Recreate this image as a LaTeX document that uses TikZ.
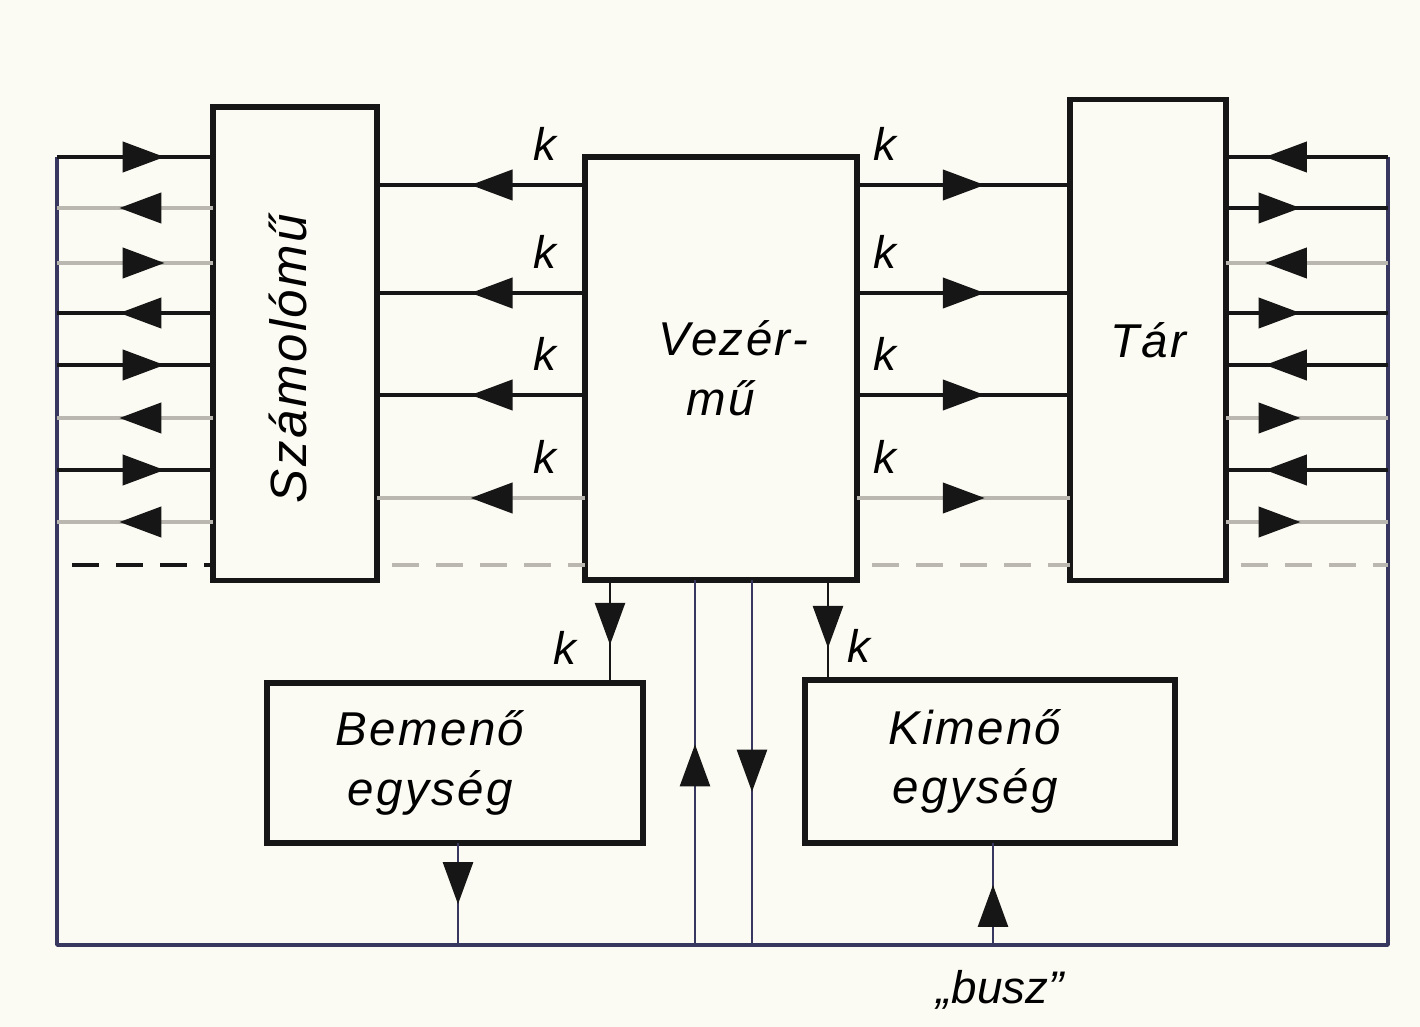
\documentclass[tikz,border=0pt]{standalone}
\usepackage{fontspec}
\setmainfont{Liberation Sans}
\newfontfamily\widefont[LetterSpace=5]{Liberation Sans}
\usetikzlibrary{arrows.meta,decorations.markings}
\definecolor{paper}{RGB}{252,251,243}
\definecolor{wire}{RGB}{22,22,22}
\definecolor{faint}{RGB}{185,183,175}
\definecolor{buscol}{RGB}{55,55,95}

\begin{document}
\begin{tikzpicture}[
    x=0.01cm, y=-0.01cm,
    unit/.style={draw=wire, line width=1.5pt, fill=paper, inner sep=0pt, outer sep=0pt,
        font=\widefont\fontsize{13.5}{17}\selectfont\itshape, align=center},
    data/.style={line width=1.2pt, draw=wire},
    dim/.style={line width=1.2pt, draw=faint},
    thin/.style={line width=0.7pt, draw=buscol},
    busline/.style={line width=1pt, draw=buscol, line join=round},
    arrowat/.style={postaction={decorate}, decoration={markings,
        mark=at position #1 with {\arrow{Triangle[length=4.2mm,width=3mm,color=wire]}}}},
    gapline/.style={line width=1.2pt, dash pattern=on 0.27cm off 0.17cm, dash phase=-0.15cm},
    lbl/.style={font=\fontsize{13}{15}\selectfont\itshape}
]
\useasboundingbox[fill=paper] (0,0) rectangle (1420,1027);

% units
\node[unit, minimum width=1.64cm, minimum height=4.73cm] (szamolo) at (295,343.5) {\rotatebox{90}{\fontsize{14.5}{17}\selectfont Számolómű\hspace*{0.3cm}}\hspace*{0.15cm}};
\node[unit, minimum width=2.72cm, minimum height=4.23cm] (vezer) at (721,368.5) {\hspace*{0.25cm}Vezér-\\mű};
\node[unit, minimum width=1.56cm, minimum height=4.80cm] (tar) at (1148,340) {Tár};
\node[unit, minimum width=3.76cm, minimum height=1.60cm] (bemeno) at (455,763) {Bemenő\hspace*{0.5cm}\\egység\hspace*{0.5cm}};
\node[unit, minimum width=3.70cm, minimum height=1.63cm] (kimeno) at (990,761.5) {Kimenő\hspace*{0.3cm}\\egység\hspace*{0.3cm}};

% bus loop
\coordinate (bustl) at (57,157);
\coordinate (busbl) at (57,945);
\coordinate (busbr) at (1388,945);
\coordinate (bustr) at (1388,157);
\draw[busline] (bustl) -- (busbl) -- (busbr) -- (bustr);

% left side of Számolómű
\draw[data, arrowat=0.69] (bustl |- 0,157) -- (szamolo.west |- 0,157);
\draw[dim, arrowat=0.6] (szamolo.west |- 0,208) -- (bustl |- 0,208);
\draw[dim, arrowat=0.69] (bustl |- 0,263) -- (szamolo.west |- 0,263);
\draw[data, arrowat=0.6] (szamolo.west |- 0,313) -- (bustl |- 0,313);
\draw[data, arrowat=0.69] (bustl |- 0,365) -- (szamolo.west |- 0,365);
\draw[dim, arrowat=0.6] (szamolo.west |- 0,418) -- (bustl |- 0,418);
\draw[data, arrowat=0.69] (bustl |- 0,470) -- (szamolo.west |- 0,470);
\draw[dim, arrowat=0.6] (szamolo.west |- 0,522) -- (bustl |- 0,522);

% Vezérmű -> Számolómű
\draw[data, arrowat=0.55] (vezer.west |- 0,185) -- node[lbl, above=3pt, pos=0.19] {k} (szamolo.east |- 0,185);
\draw[data, arrowat=0.55] (vezer.west |- 0,293) -- node[lbl, above=3pt, pos=0.19] {k} (szamolo.east |- 0,293);
\draw[data, arrowat=0.55] (vezer.west |- 0,395) -- node[lbl, above=3pt, pos=0.19] {k} (szamolo.east |- 0,395);
\draw[dim, arrowat=0.55] (vezer.west |- 0,498) -- node[lbl, above=3pt, pos=0.19] {k} (szamolo.east |- 0,498);

% Vezérmű -> Tár
\draw[data, arrowat=0.6] (vezer.east |- 0,185) -- node[lbl, above=3pt, pos=0.13] {k} (tar.west |- 0,185);
\draw[data, arrowat=0.6] (vezer.east |- 0,293) -- node[lbl, above=3pt, pos=0.13] {k} (tar.west |- 0,293);
\draw[data, arrowat=0.6] (vezer.east |- 0,395) -- node[lbl, above=3pt, pos=0.13] {k} (tar.west |- 0,395);
\draw[dim, arrowat=0.6] (vezer.east |- 0,498) -- node[lbl, above=3pt, pos=0.13] {k} (tar.west |- 0,498);

% right side of Tár
\draw[data, arrowat=0.76] (bustr |- 0,157) -- (tar.east |- 0,157);
\draw[data, arrowat=0.46] (tar.east |- 0,208) -- (bustr |- 0,208);
\draw[dim, arrowat=0.76] (bustr |- 0,263) -- (tar.east |- 0,263);
\draw[data, arrowat=0.46] (tar.east |- 0,313) -- (bustr |- 0,313);
\draw[data, arrowat=0.76] (bustr |- 0,365) -- (tar.east |- 0,365);
\draw[dim, arrowat=0.46] (tar.east |- 0,418) -- (bustr |- 0,418);
\draw[data, arrowat=0.76] (bustr |- 0,470) -- (tar.east |- 0,470);
\draw[dim, arrowat=0.46] (tar.east |- 0,522) -- (bustr |- 0,522);

% further lines
\draw[gapline, draw=wire] (bustl |- 0,565) -- (szamolo.west |- 0,565);
\draw[gapline, draw=faint] (szamolo.east |- 0,565) -- (vezer.west |- 0,565);
\draw[gapline, draw=faint] (vezer.east |- 0,565) -- (tar.west |- 0,565);
\draw[gapline, draw=faint] (tar.east |- 0,565) -- (bustr |- 0,565);

% Vezérmű to the units and the bus
\draw[thin, draw=wire, arrowat=0.63] (vezer.south -| 610,0) -- node[lbl, left=6pt, pos=0.66] {k} (bemeno.north -| 610,0);
\draw[thin, draw=wire, arrowat=0.68] (vezer.south -| 828,0) -- node[lbl, right=2pt, pos=0.66] {k} (kimeno.north -| 828,0);
\draw[thin, arrowat=0.55] (busbl -| 695,0) -- (vezer.south -| 695,0);
\draw[thin, arrowat=0.58] (vezer.south -| 752,0) -- (busbl -| 752,0);
\draw[thin, arrowat=0.6] (bemeno.south -| 458,0) -- (busbl -| 458,0);
\draw[thin, arrowat=0.59] (busbl -| 993,0) -- (kimeno.south -| 993,0);

\node[lbl] (busz) at (1000,990) {„busz”};

\end{tikzpicture}
\end{document}
